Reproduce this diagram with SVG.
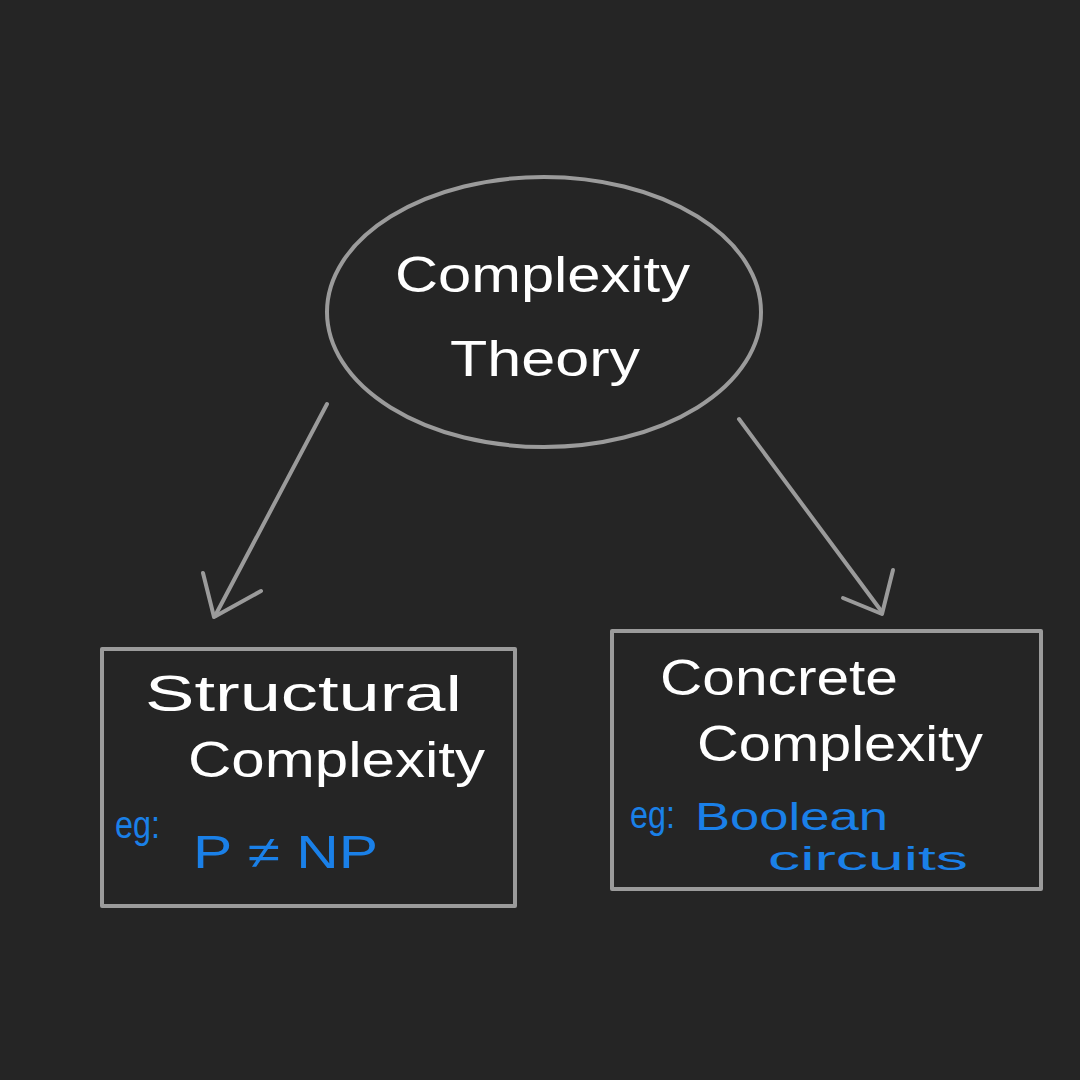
<svg xmlns="http://www.w3.org/2000/svg" width="1080" height="1080" viewBox="0 0 1080 1080">
<style>
.bg{fill:#252525}
.shape{fill:none;stroke:#9b9b9b;stroke-width:4;stroke-linecap:round;stroke-linejoin:round}
.w{fill:#ffffff;font-family:"Liberation Sans","DejaVu Sans",sans-serif;font-size:50px}
.b{fill:#1a80e8;font-family:"Liberation Sans","DejaVu Sans",sans-serif;font-size:46px}
.s{font-size:38px}
.m{font-size:38px}
.n{font-size:34px}
</style>
<rect class="bg" x="0" y="0" width="1080" height="1080"/>
<g id="connectors">
<path class="shape" d="M327 404 L215 616"/>
<path class="shape" d="M203 573 L214 617 L261 591"/>
<path class="shape" d="M739 419 L882 612"/>
<path class="shape" d="M843 598 L882 614 L893 570"/>
</g>
<g id="complexity-theory">
<ellipse class="shape" cx="544" cy="312" rx="217" ry="135"/>
<text class="w" x="395" y="292" textLength="295" lengthAdjust="spacingAndGlyphs">Complexity</text>
<text class="w" x="450" y="376" textLength="190" lengthAdjust="spacingAndGlyphs">Theory</text>
</g>
<g id="structural-complexity">
<rect class="shape" x="102" y="649" width="413" height="257"/>
<text class="w" x="145" y="711" textLength="317" lengthAdjust="spacingAndGlyphs">Structural</text>
<text class="w" x="188" y="777" textLength="297" lengthAdjust="spacingAndGlyphs">Complexity</text>
<text class="b s" x="115" y="838" textLength="45" lengthAdjust="spacingAndGlyphs">eg:</text>
<text class="b" x="193" y="868" textLength="185" lengthAdjust="spacingAndGlyphs">P ≠ NP</text>
</g>
<g id="concrete-complexity">
<rect class="shape" x="612" y="631" width="429" height="258"/>
<text class="w" x="660" y="695" textLength="238" lengthAdjust="spacingAndGlyphs">Concrete</text>
<text class="w" x="697" y="761" textLength="286" lengthAdjust="spacingAndGlyphs">Complexity</text>
<text class="b s" x="630" y="828" textLength="45" lengthAdjust="spacingAndGlyphs">eg:</text>
<text class="b m" x="695" y="830" textLength="193" lengthAdjust="spacingAndGlyphs">Boolean</text>
<text class="b n" x="768" y="870" textLength="200" lengthAdjust="spacingAndGlyphs">circuits</text>
</g>
</svg>
